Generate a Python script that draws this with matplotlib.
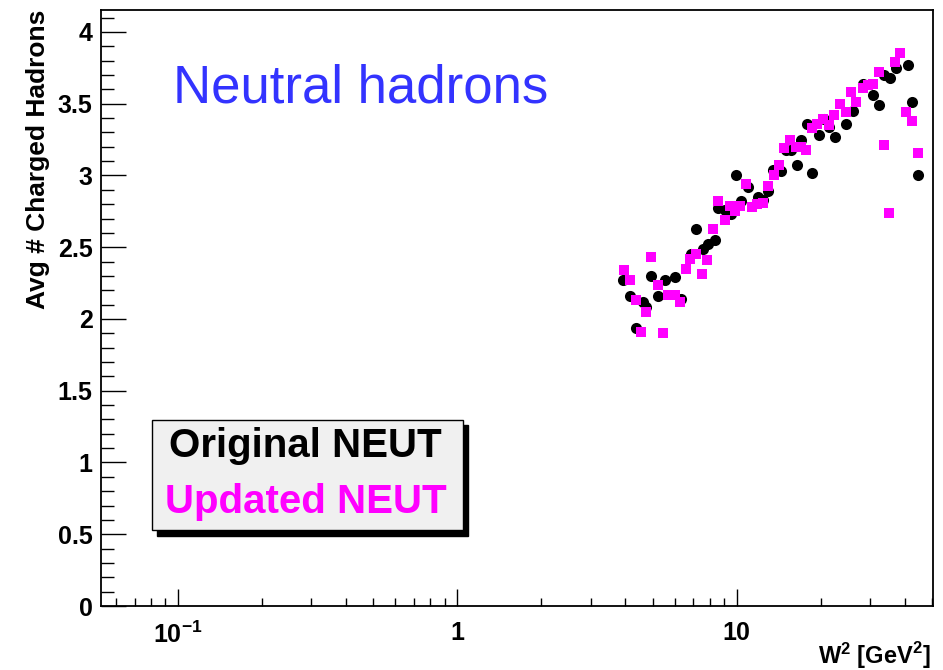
import matplotlib
matplotlib.use("Agg")
import matplotlib.pyplot as plt
from matplotlib.ticker import FixedLocator, MultipleLocator, LogLocator, NullFormatter, FuncFormatter
from matplotlib.patches import Rectangle

# W^2 [GeV^2] and average multiplicity
w2_orig = [3.92, 4.14, 4.62, 4.75, 4.38, 4.95, 5.23, 5.53, 6.00, 6.34, 6.88, 7.17,
           7.58, 7.89, 8.34, 8.57, 9.06, 9.57, 9.92, 10.39, 10.97, 11.92, 12.42, 12.94,
           13.49, 14.45, 15.06, 15.70, 16.44, 17.04, 17.84, 18.59, 19.70, 20.48, 21.51,
           22.42, 24.69, 26.07, 28.31, 30.74, 32.29, 33.84, 35.56, 37.27, 41.02, 42.53, 44.54]
n_orig = [2.27, 2.16, 2.12, 2.08, 1.94, 2.30, 2.16, 2.27, 2.29, 2.14, 2.45, 2.63,
          2.49, 2.52, 2.55, 2.77, 2.76, 2.73, 3.00, 2.82, 2.92, 2.85, 2.83, 2.89,
          3.04, 3.03, 3.18, 3.18, 3.07, 3.25, 3.36, 3.02, 3.28, 3.39, 3.34,
          3.27, 3.36, 3.45, 3.64, 3.56, 3.49, 3.70, 3.68, 3.75, 3.77, 3.51, 3.00]

w2_upd = [3.94, 4.14, 4.35, 4.75, 4.53, 4.95, 5.23, 5.45, 5.68, 6.00, 6.29, 6.57,
          6.83, 7.17, 7.54, 7.83, 8.23, 8.57, 9.06, 9.44, 9.84, 10.25, 10.83, 11.34,
          11.86, 12.42, 12.94, 13.56, 14.17, 14.76, 15.48, 16.36, 17.04, 17.76, 18.59,
          19.44, 20.36, 21.39, 22.29, 23.50, 24.55, 25.73, 26.81, 28.31, 29.50, 30.92,
          32.29, 33.84, 35.27, 36.97, 38.62, 40.48, 42.53, 44.54]
n_upd = [2.34, 2.27, 2.13, 2.05, 1.91, 2.43, 2.24, 1.90, 2.17, 2.17, 2.12, 2.35,
         2.42, 2.45, 2.31, 2.41, 2.63, 2.82, 2.69, 2.79, 2.75, 2.79, 2.94, 2.78,
         2.80, 2.81, 2.93, 3.00, 3.07, 3.19, 3.25, 3.20, 3.20, 3.18, 3.33,
         3.36, 3.39, 3.35, 3.42, 3.50, 3.44, 3.58, 3.51, 3.61, 3.63, 3.64,
         3.72, 3.21, 2.74, 3.79, 3.85, 3.44, 3.38, 3.16]

x_ticks = [0.1, 1, 10]
x_ticklabels = [r"$\mathbf{10^{-1}}$", "1", "10"]

plt.rcParams["font.family"] = ["Liberation Sans", "DejaVu Sans"]
plt.rcParams["font.weight"] = "bold"
plt.rcParams["mathtext.fontset"] = "custom"
plt.rcParams["mathtext.rm"] = "Liberation Sans:bold"
plt.rcParams["mathtext.bf"] = "Liberation Sans:bold"

fig = plt.figure(figsize=(9.43, 6.70), dpi=100)
ax = fig.add_axes([101 / 943, 64 / 670, 832 / 943, 596 / 670])

ax.plot(w2_orig, n_orig, "o", color="black", markersize=8, markeredgewidth=0, zorder=3)
ax.plot(w2_upd, n_upd, "s", color="#ff00ff", markersize=7.5, markeredgewidth=0, zorder=4)

ax.set_xscale("log")
ax.set_xlim(0.053, 50.5)
ax.set_ylim(0, 4.153)

ax.xaxis.set_major_locator(FixedLocator(x_ticks))
ax.set_xticklabels(x_ticklabels)
ax.xaxis.set_minor_locator(LogLocator(base=10, subs=range(2, 10)))
ax.xaxis.set_minor_formatter(NullFormatter())
ax.yaxis.set_major_locator(MultipleLocator(0.5))
ax.yaxis.set_minor_locator(MultipleLocator(0.1))
ax.yaxis.set_major_formatter(FuncFormatter(lambda v, p: "%g" % v))

ax.tick_params(axis="both", which="both", direction="in", width=1)
ax.tick_params(axis="x", which="major", length=12, pad=11, labelsize=18)
ax.tick_params(axis="x", which="minor", length=6)
ax.tick_params(axis="y", which="major", length=18, pad=6, labelsize=18)
ax.tick_params(axis="y", which="minor", length=9)
ax.tick_params(top=False, right=False)
for s in ax.spines.values():
    s.set_linewidth(1.3)

ax.set_ylabel("Avg # Charged Hadrons", fontsize=19, fontweight="bold", loc="top")
ax.yaxis.set_label_coords(-0.061, 1.0)
ax.set_xlabel(r"$\mathbf{W^{2}}$ [GeV$^{2}$]", fontsize=17, fontweight="bold", loc="right")
ax.xaxis.set_label_coords(0.997, -0.058)

ax.text(0.087, 0.869, "Neutral hadrons", transform=ax.transAxes, color="#3333ff",
        fontsize=38, fontweight="normal", va="center", ha="left")

# legend box with shadow, ROOT style
ax.add_patch(Rectangle((0.0673, 0.118), 0.374, 0.185, transform=ax.transAxes,
                       facecolor="black", edgecolor="black", zorder=5))
ax.add_patch(Rectangle((0.0613, 0.1275), 0.374, 0.185, transform=ax.transAxes,
                       facecolor="#f0f0f0", edgecolor="black", linewidth=1, zorder=6))
ax.text(0.246, 0.268, "Original NEUT", transform=ax.transAxes, color="black",
        fontsize=29, fontweight="bold", ha="center", va="center", zorder=7)
ax.text(0.246, 0.175, "Updated NEUT", transform=ax.transAxes, color="#ff00ff",
        fontsize=29, fontweight="bold", ha="center", va="center", zorder=7)

fig.savefig("out.png", dpi=100)
